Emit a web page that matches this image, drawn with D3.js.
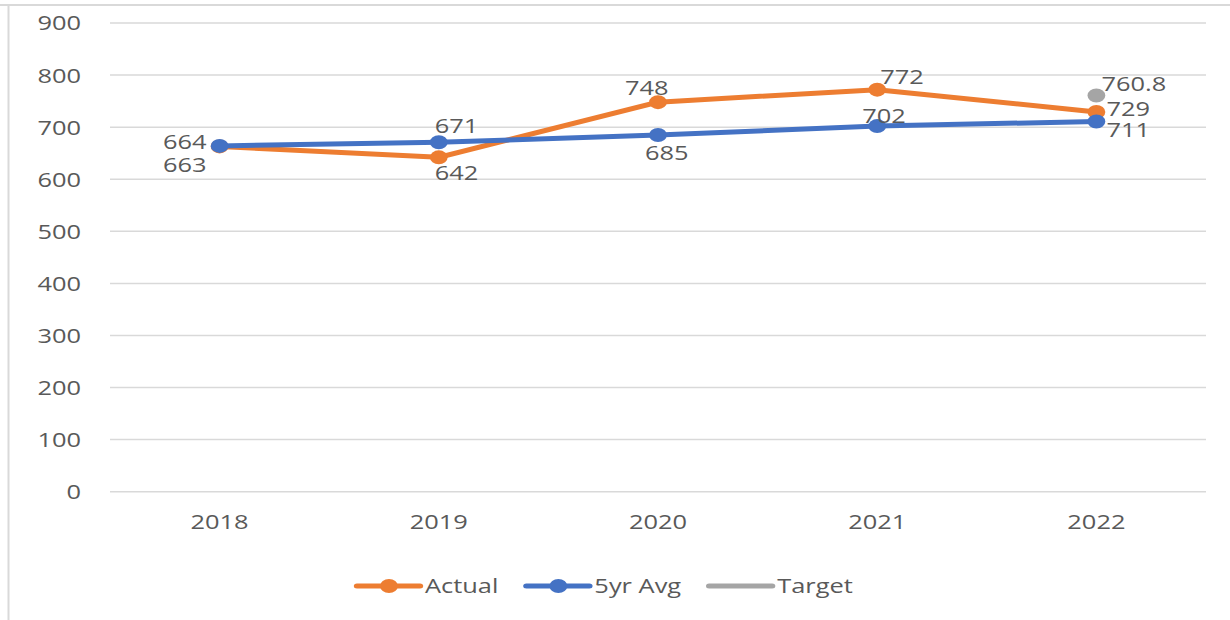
<!doctype html>
<html>
<head>
<meta charset="utf-8">
<title>Actual vs 5yr Avg</title>
<style>
  body { margin: 0; background: #fff; }
  svg { display: block; }
  text { font-family: "Open Sans", "Noto Sans", sans-serif; fill: #595959; }
</style>
<script src="https://cdnjs.cloudflare.com/ajax/libs/d3/7.8.5/d3.min.js"></script>
</head>
<body>
<div id="chart"></div>
<script>
// data
const years = ['2018', '2019', '2020', '2021', '2022'];
const actual = [663, 642, 748, 772, 729];
const avg5yr = [664, 671, 685, 702, 711];
const target = [null, null, null, null, 760.8];
const yTicks = [0, 100, 200, 300, 400, 500, 600, 700, 800, 900];

// the original picture is stretched sideways, so draw narrow and stretch the svg
const W = 1230, H = 620, k = 1.27;
const fs = 20;

// where each value label sits next to its point (screen px)
const labelOffsets = {
  actual: [[-13, 18, 'end'], [-4, 15, 'start'], [-33, -15, 'start'], [3, -13, 'start'], [10, -3, 'start']],
  avg:    [[-13, -4, 'end'], [-4, -17, 'start'], [-13, 18, 'start'], [-15, -11, 'start'], [10, 8, 'start']],
  target: [null, null, null, null, [5, -12, 'start']]
};

const svg = d3.select('#chart').append('svg')
  .attr('width', W).attr('height', H)
  .attr('viewBox', `0 0 ${W / k} ${H}`)
  .attr('preserveAspectRatio', 'none');

const x = d3.scalePoint().domain(years).range([110 / k, 1206 / k]).padding(0.5);
const y = d3.scaleLinear().domain([0, 900]).range([491.7, 23]);

// frame bits
svg.append('line').attr('x1', 0).attr('x2', W / k).attr('y1', 5).attr('y2', 5)
  .attr('stroke', '#d9d9d9').attr('stroke-width', 2);
svg.append('line').attr('x1', 8.5 / k).attr('x2', 8.5 / k).attr('y1', 5).attr('y2', H)
  .attr('stroke', '#d9d9d9').attr('stroke-width', 2 / k);

// gridlines
svg.append('g').selectAll('line').data(yTicks).join('line')
  .attr('x1', 110 / k).attr('x2', 1206 / k)
  .attr('y1', d => y(d)).attr('y2', d => y(d))
  .attr('stroke', '#d9d9d9').attr('stroke-width', 1.5);

// y axis labels
svg.append('g').selectAll('text').data(yTicks).join('text')
  .attr('x', 81 / k).attr('y', d => y(d))
  .attr('text-anchor', 'end').attr('dominant-baseline', 'central')
  .attr('font-size', fs).text(d => d);

// x axis labels
svg.append('g').selectAll('text').data(years).join('text')
  .attr('x', d => x(d)).attr('y', 522)
  .attr('text-anchor', 'middle').attr('dominant-baseline', 'central')
  .attr('font-size', fs).text(d => d);

const series = [
  { key: 'actual', values: actual, color: '#ED7D31' },
  { key: 'avg', values: avg5yr, color: '#4472C4' },
  { key: 'target', values: target, color: '#A5A5A5' }
];

const line = d3.line()
  .defined(d => d.v != null)
  .x(d => x(d.year)).y(d => y(d.v));

series.forEach(s => {
  const pts = years.map((yr, i) => ({ year: yr, v: s.values[i], i: i }));
  svg.append('path').datum(pts)
    .attr('d', line).attr('fill', 'none')
    .attr('stroke', s.color).attr('stroke-width', 5)
    .attr('stroke-linejoin', 'round').attr('stroke-linecap', 'round');
  const valid = pts.filter(d => d.v != null);
  svg.append('g').selectAll('ellipse').data(valid).join('ellipse')
    .attr('cx', d => x(d.year)).attr('cy', d => y(d.v))
    .attr('rx', 7).attr('ry', 7)
    .attr('fill', s.color);
  svg.append('g').selectAll('text').data(valid).join('text')
    .attr('x', d => x(d.year) + labelOffsets[s.key][d.i][0] / k)
    .attr('y', d => y(d.v) + labelOffsets[s.key][d.i][1])
    .attr('text-anchor', d => labelOffsets[s.key][d.i][2])
    .attr('dominant-baseline', 'central')
    .attr('font-size', fs).text(d => d.v);
});

// legend
const legend = svg.append('g');
let lx = 357 / k;
series.forEach(s => {
  const name = s.key === 'actual' ? 'Actual' : s.key === 'avg' ? '5yr Avg' : 'Target';
  legend.append('line')
    .attr('x1', lx).attr('x2', lx + 63 / k).attr('y1', 586).attr('y2', 586)
    .attr('stroke', s.color).attr('stroke-width', 5).attr('stroke-linecap', 'round');
  if (s.key !== 'target') {
    legend.append('ellipse').attr('cx', lx + 32 / k).attr('cy', 586)
      .attr('rx', 7).attr('ry', 7).attr('fill', s.color);
  }
  const t = legend.append('text').attr('x', lx + 68 / k).attr('y', 586)
    .attr('dominant-baseline', 'central').attr('font-size', fs).text(name);
  lx += 68 / k + t.node().getComputedTextLength() + 28 / k;
});
</script>
</body>
</html>
